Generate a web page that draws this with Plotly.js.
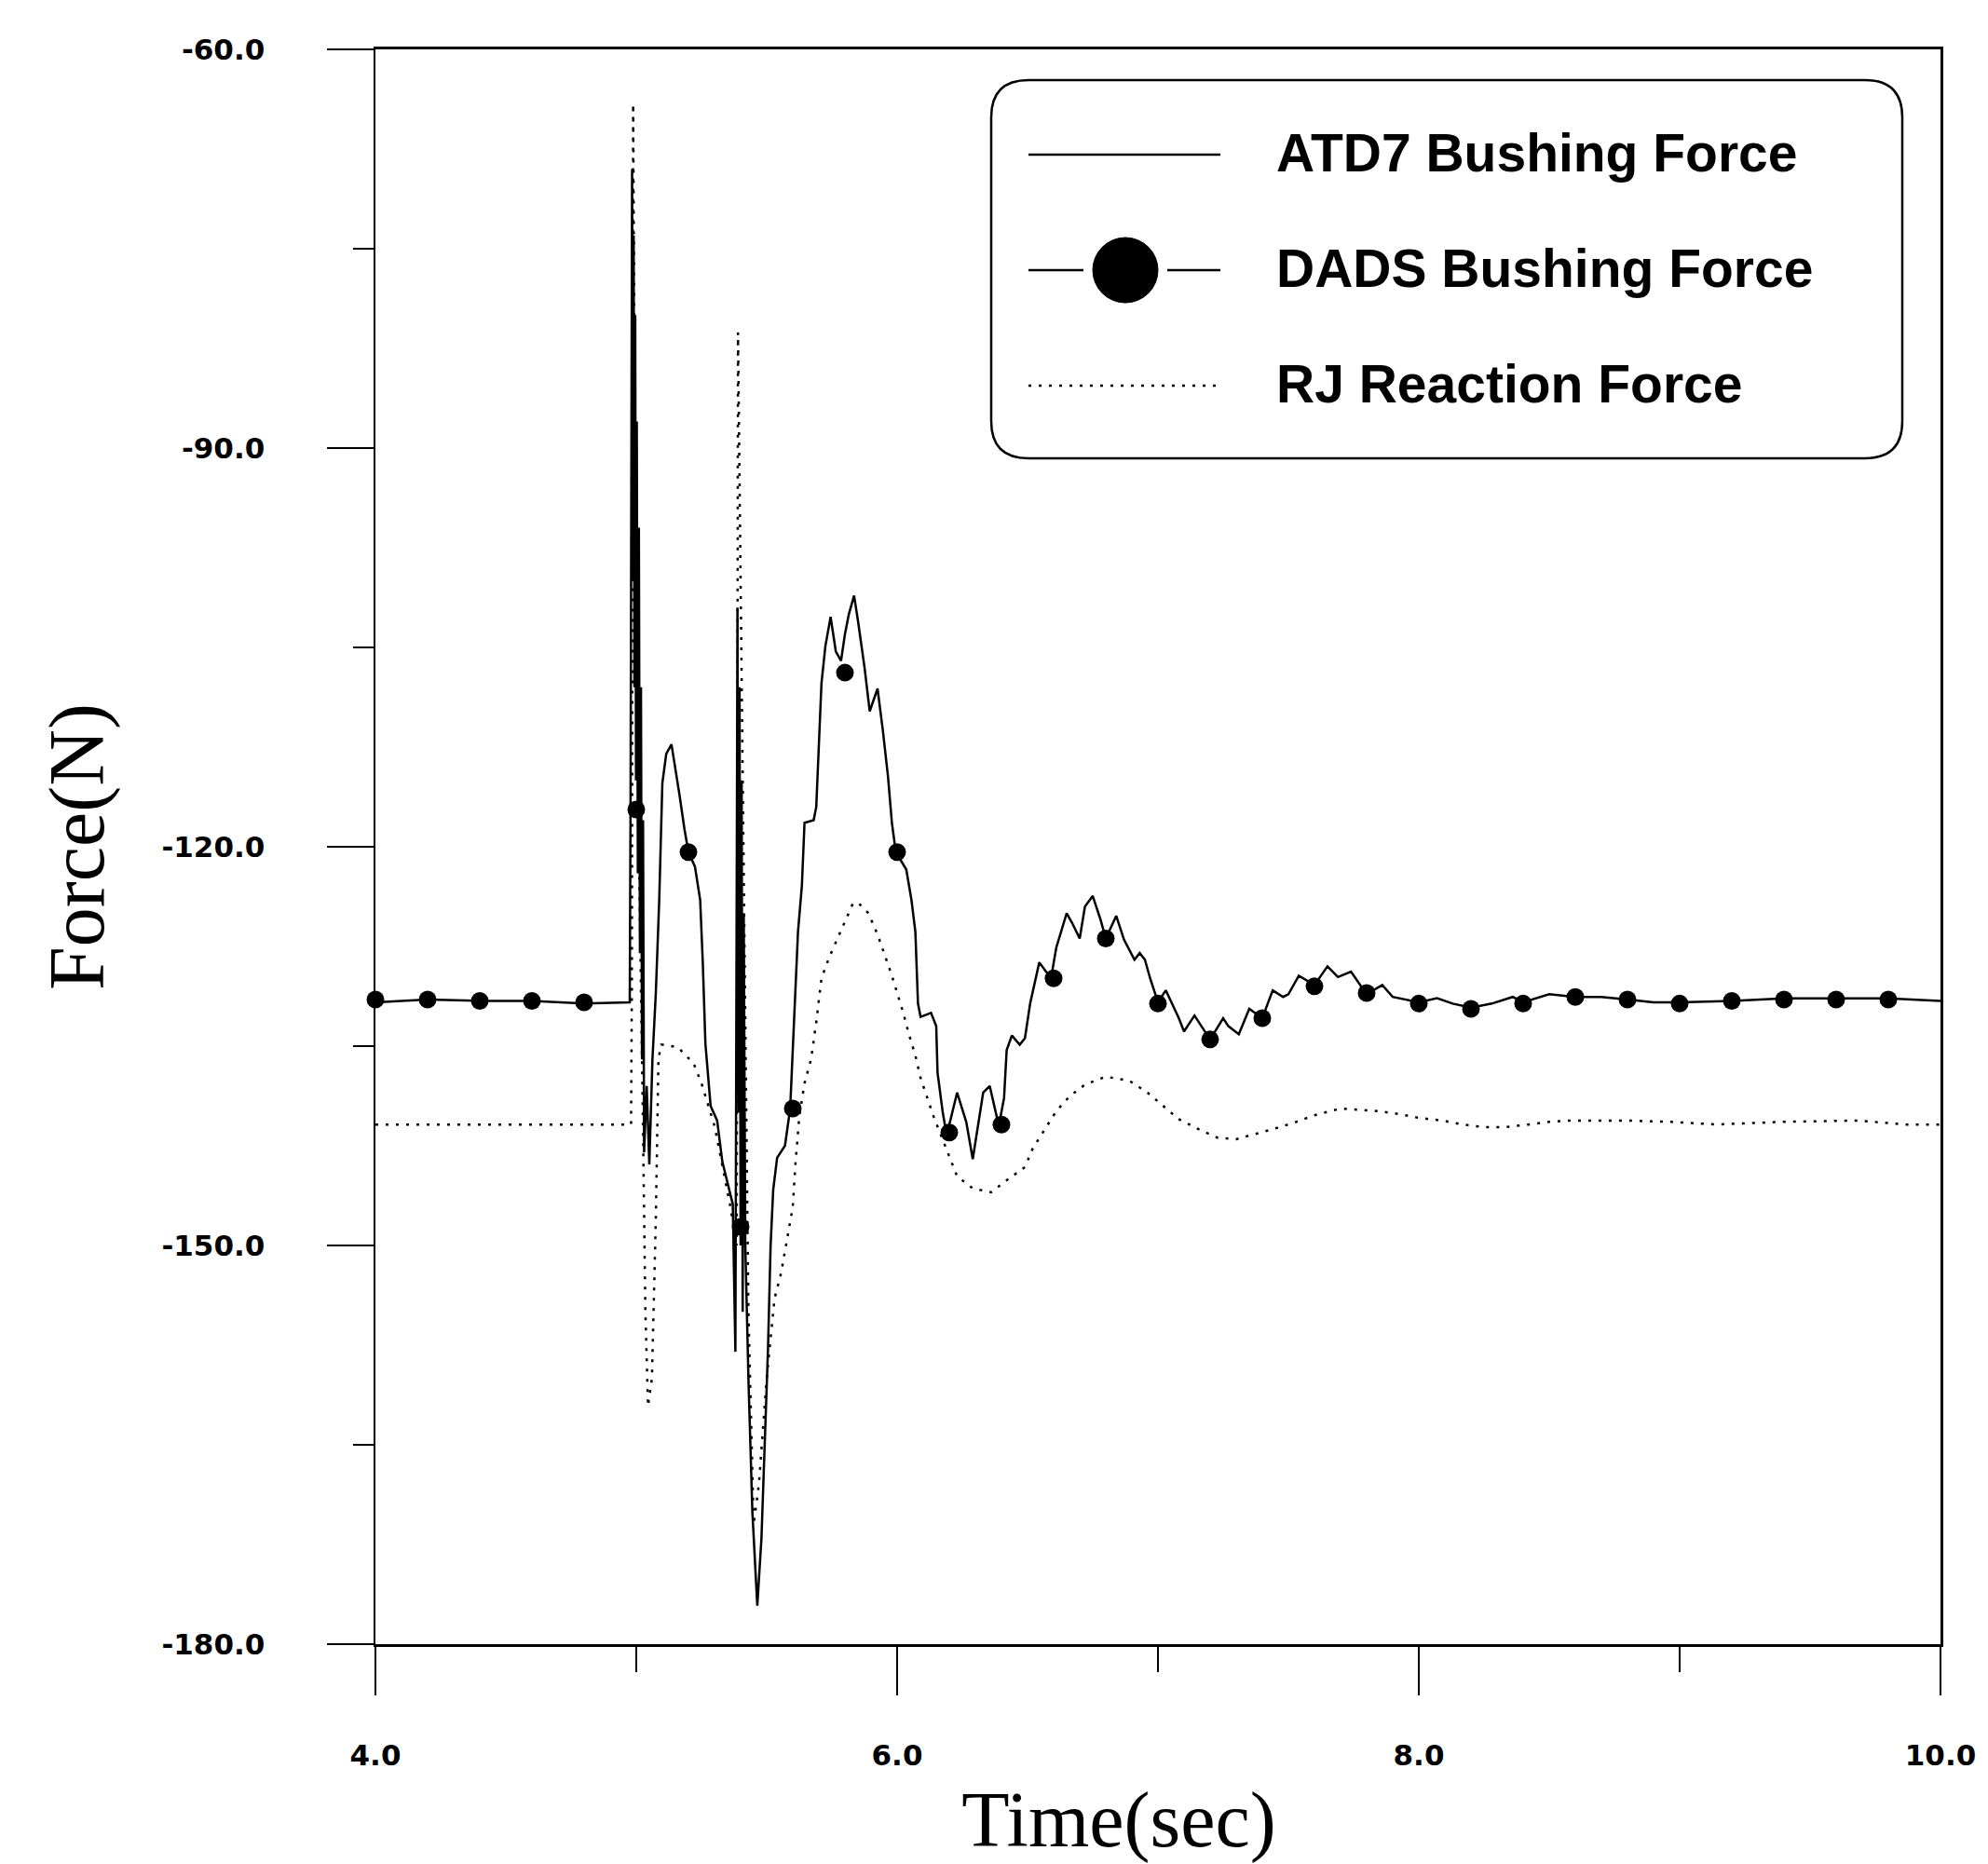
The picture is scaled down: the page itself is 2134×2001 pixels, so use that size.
<!DOCTYPE html>
<html>
<head>
<meta charset="utf-8">
<script src="https://cdn.plot.ly/plotly-3.0.1.min.js"></script>
<style>
  html, body { margin: 0; padding: 0; background: #ffffff; }
  #chart { width: 2134px; height: 2001px; }
</style>
</head>
<body>
<div id="chart"></div>
<script>
// ---------------- DATA ----------------
const seriesNames = ["ATD7 Bushing Force", "DADS Bushing Force", "RJ Reaction Force"];

const timeATD7 = [4.00, 4.20, 4.40, 4.60, 4.80, 4.975, 4.978, 4.981, 4.984, 4.987, 4.990, 4.993, 4.996, 4.999, 5.002, 5.006, 5.010, 5.014, 5.018, 5.022,
  5.026, 5.030, 5.040, 5.050, 5.062, 5.075, 5.088,
  5.100, 5.115, 5.135, 5.150, 5.165, 5.185, 5.200, 5.225, 5.245, 5.255, 5.265, 5.285, 5.310, 5.330, 5.350, 5.370, 5.380, 5.384, 5.388, 5.392,
  5.396, 5.400, 5.404, 5.408, 5.412, 5.418, 5.430, 5.445, 5.464, 5.480, 5.495, 5.505, 5.515, 5.525, 5.540, 5.570, 5.590, 5.605, 5.620, 5.635, 5.645, 5.680,
  5.690, 5.710, 5.725, 5.745, 5.765, 5.785, 5.800, 5.815, 5.835, 5.850, 5.875, 5.895, 5.925, 5.945, 5.965, 5.980, 5.995, 6.035, 6.055, 6.070,
  6.080, 6.090, 6.130, 6.150, 6.155, 6.175, 6.190, 6.230, 6.265, 6.290, 6.330, 6.355, 6.390, 6.410, 6.420, 6.440, 6.470, 6.490, 6.510, 6.545,
  6.590, 6.610, 6.650, 6.670, 6.700, 6.720, 6.750, 6.780, 6.800, 6.840, 6.870, 6.910, 6.930, 6.950, 6.970, 7.000, 7.030, 7.080, 7.100, 7.140,
  7.200, 7.250, 7.270, 7.310, 7.350, 7.400, 7.440, 7.480, 7.500, 7.540, 7.600, 7.650, 7.690, 7.740, 7.800, 7.860, 7.900, 8.000, 8.070, 8.130,
  8.200, 8.280, 8.360, 8.400, 8.500, 8.600, 8.700, 8.800, 8.900, 9.000, 9.200, 9.400, 9.600, 9.800, 10.00];
const forceATD7 = [-131.7, -131.5, -131.6, -131.6, -131.8, -131.7, -117.2, -80.0, -69.0, -100.0, -74.0, -108.0, -80.0, -115.0, -88.0, -122.0, -96.0, -128.0, -108.0, -136.0,
  -118.0, -143.0, -138.0, -143.9, -136.0, -131.0, -124.0,
  -115.2, -113.0, -112.3, -114.0, -116.0, -118.7, -120.4, -121.5, -124.0, -128.7, -134.8, -139.5, -140.6, -143.7, -145.3, -146.9, -158.0, -130.0, -102.0, -140.0,
  -108.0, -150.0, -115.0, -155.0, -125.0, -150.0, -160.0, -170.0, -177.1, -172.0, -163.0, -157.8, -150.0, -145.8, -143.4, -142.5, -139.7, -133.0, -126.4, -122.9, -118.2, -118.0,
  -117.0, -107.7, -104.9, -102.7, -105.3, -106.0, -104.0, -102.5, -101.1, -103.0, -106.5, -109.8, -108.1, -111.2, -114.7, -118.2, -120.4, -121.7, -124.0, -126.4,
  -131.8, -132.8, -132.5, -133.5, -137.0, -140.0, -141.7, -138.5, -140.7, -143.5, -138.5, -138.0, -141.0, -138.9, -135.3, -134.2, -134.9, -134.4, -131.8, -128.7,
  -129.9, -127.6, -125.0, -125.7, -126.9, -124.5, -123.7, -125.5, -126.9, -125.2, -127.0, -128.5, -128.0, -128.5, -129.9, -131.7, -130.8, -132.9, -133.9, -132.7,
  -134.5, -132.9, -133.5, -134.1, -132.2, -132.9, -130.8, -131.3, -131.1, -129.7, -130.4, -129.0, -129.8, -129.4, -131.1, -130.4, -131.3, -131.7, -131.4, -131.8,
  -132.1, -131.8, -131.3, -131.7, -131.1, -131.3, -131.3, -131.5, -131.7, -131.7, -131.6, -131.4, -131.4, -131.4, -131.6];

const timeDADS = [4.0, 4.2, 4.4, 4.6, 4.8, 5.0, 5.2, 5.4, 5.6, 5.8, 6.0, 6.2, 6.4, 6.6, 6.8,
  7.0, 7.2, 7.4, 7.6, 7.8, 8.0, 8.2, 8.4, 8.6, 8.8, 9.0, 9.2, 9.4, 9.6, 9.8];
const forceDADS = [-131.5, -131.5, -131.6, -131.6, -131.7, -117.2, -120.4, -148.6, -139.7, -106.9, -120.4, -141.5, -140.9, -129.9, -126.9,
  -131.8, -134.5, -132.9, -130.5, -131.0, -131.8, -132.2, -131.8, -131.3, -131.5, -131.8, -131.6, -131.5, -131.5, -131.5];

const timeRJ = [4.00, 4.98, 4.983, 4.988, 4.995, 5.010, 5.025, 5.035, 5.045, 5.060, 5.075, 5.085, 5.095, 5.110, 5.160, 5.220, 5.250, 5.275, 5.300, 5.330,
  5.360, 5.385, 5.390, 5.400, 5.415, 5.430, 5.450, 5.470, 5.500, 5.530, 5.555, 5.570, 5.585, 5.600, 5.610, 5.625, 5.645, 5.670, 5.690, 5.710,
  5.740, 5.775, 5.830, 5.850, 5.890, 5.925, 5.950, 5.980, 6.025, 6.045, 6.070, 6.090, 6.140, 6.200, 6.230, 6.290, 6.360, 6.420, 6.490, 6.520,
  6.570, 6.610, 6.660, 6.720, 6.800, 6.890, 6.960, 7.020, 7.080, 7.150, 7.230, 7.300, 7.380, 7.450, 7.530, 7.600, 7.700, 7.780, 7.850, 7.920,
  8.000, 8.090, 8.170, 8.250, 8.330, 8.420, 8.500, 8.570, 8.790, 8.970, 9.140, 9.390, 9.690, 9.860, 10.00];
const forceRJ = [-140.9, -140.9, -131.0, -64.1, -90.0, -120.0, -140.0, -155.0, -162.1, -160.0, -148.0, -136.0, -134.9, -134.9, -135.1, -136.3, -137.8, -139.4, -141.0, -144.0,
  -147.0, -150.0, -81.3, -100.0, -130.0, -155.0, -171.0, -168.0, -160.0, -154.0, -152.1, -150.4, -148.8, -147.1, -143.9, -140.3, -137.8, -136.0, -133.2, -129.9,
  -128.3, -126.7, -124.3, -124.2, -125.0, -126.6, -128.0, -129.7, -132.6, -134.1, -135.7, -137.4, -140.3, -143.3, -144.8, -145.7, -146.0, -145.1, -144.1, -142.7,
  -141.1, -139.9, -138.8, -137.9, -137.3, -137.6, -138.5, -139.5, -140.5, -141.2, -141.9, -142.0, -141.6, -141.2, -140.7, -140.2, -139.7, -139.8, -139.9, -140.1,
  -140.4, -140.6, -140.9, -141.1, -141.1, -140.9, -140.7, -140.6, -140.6, -140.7, -140.9, -140.7, -140.6, -140.9, -140.9];

const xTickVals = [4, 6, 8, 10];
const xTickText = ["4.0", "6.0", "8.0", "10.0"];
const yTickVals = [-60, -90, -120, -150, -180];
const yTickText = ["-60.0", "-90.0", "-120.0", "-150.0", "-180.0"];
const xTitleText = "Time(sec)";
const yTitleText = "Force(N)";

// ---------------- LAYOUT HELPERS ----------------
const W = 2134, H = 2001;
const M = { l: 403, r: 51, t: 53, b: 236 };
const PW = W - M.l - M.r, PH = H - M.t - M.b;
const px = (x) => (x - M.l) / PW;          // page px -> paper x
const py = (y) => (H - M.b - y) / PH;      // page px -> paper y

const INK = "#000000";
const tickFont = { family: "DejaVu Sans", size: 31, color: INK, weight: "bold" };
const titleFont = { family: "Liberation Serif, Times New Roman, serif", size: 84, color: INK };
const legendFont = { family: "Liberation Sans, Arial, sans-serif", size: 57, color: INK, weight: "bold" };

// ---------------- TRACES ----------------
const traces = [
  {
    x: timeATD7, y: forceATD7, name: seriesNames[0], type: "scatter", mode: "lines",
    line: { color: INK, width: 2.5 }, showlegend: false, hoverinfo: "skip"
  },
  {
    x: timeRJ, y: forceRJ, name: seriesNames[2], type: "scatter", mode: "lines",
    line: { color: INK, width: 2.5, dash: "3px,8px" }, showlegend: false, hoverinfo: "skip"
  },
  {
    x: timeDADS, y: forceDADS, name: seriesNames[1], type: "scatter", mode: "markers",
    marker: { color: INK, size: 19, symbol: "circle" }, cliponaxis: false,
    showlegend: false, hoverinfo: "skip"
  }
];

// ---------------- CUSTOM LEGEND (rounded box) ----------------
const box = { x0: 1064, y0: 86, x1: 2042, y1: 492, r: 40 };
const boxPath =
  `M ${px(box.x0 + box.r)},${py(box.y0)} L ${px(box.x1 - box.r)},${py(box.y0)} ` +
  `Q ${px(box.x1)},${py(box.y0)} ${px(box.x1)},${py(box.y0 + box.r)} ` +
  `L ${px(box.x1)},${py(box.y1 - box.r)} ` +
  `Q ${px(box.x1)},${py(box.y1)} ${px(box.x1 - box.r)},${py(box.y1)} ` +
  `L ${px(box.x0 + box.r)},${py(box.y1)} ` +
  `Q ${px(box.x0)},${py(box.y1)} ${px(box.x0)},${py(box.y1 - box.r)} ` +
  `L ${px(box.x0)},${py(box.y0 + box.r)} ` +
  `Q ${px(box.x0)},${py(box.y0)} ${px(box.x0 + box.r)},${py(box.y0)} Z`;

const rowsY = [166, 290, 414];
const sampleX0 = 1104, sampleX1 = 1310, markerCX = 1208, markerR = 35;
const textX = 1368;

const shapes = [
  { type: "path", xref: "paper", yref: "paper", path: boxPath, line: { color: INK, width: 2.5 }, fillcolor: "rgba(0,0,0,0)" },
  { type: "line", xref: "paper", yref: "paper", x0: px(sampleX0), x1: px(sampleX1), y0: py(rowsY[0]), y1: py(rowsY[0]), line: { color: INK, width: 2.5 } },
  { type: "line", xref: "paper", yref: "paper", x0: px(sampleX0), x1: px(markerCX - markerR - 10), y0: py(rowsY[1]), y1: py(rowsY[1]), line: { color: INK, width: 2.5 } },
  { type: "line", xref: "paper", yref: "paper", x0: px(markerCX + markerR + 10), x1: px(sampleX1), y0: py(rowsY[1]), y1: py(rowsY[1]), line: { color: INK, width: 2.5 } },
  { type: "circle", xref: "paper", yref: "paper", x0: px(markerCX - markerR), x1: px(markerCX + markerR), y0: py(rowsY[1] + markerR), y1: py(rowsY[1] - markerR), fillcolor: INK, line: { color: INK, width: 1 } },
  { type: "line", xref: "paper", yref: "paper", x0: px(sampleX0), x1: px(sampleX1), y0: py(rowsY[2]), y1: py(rowsY[2]), line: { color: INK, width: 2.5, dash: "3px,8px" } }
];

const annotations = seriesNames.map((name, i) => ({
  xref: "paper", yref: "paper", x: px(textX), y: py(rowsY[i] - 2),
  xanchor: "left", yanchor: "middle", showarrow: false,
  text: name, font: legendFont
}));

// ---------------- LAYOUT ----------------
const layout = {
  width: W, height: H,
  margin: M,
  paper_bgcolor: "#ffffff", plot_bgcolor: "#ffffff",
  showlegend: false,
  xaxis: {
    range: [4, 10], autorange: false,
    tickmode: "array", tickvals: xTickVals, ticktext: xTickText,
    ticks: "outside", ticklen: 52, tickwidth: 2.5, tickcolor: INK,
    ticklabelstandoff: 38,
    minor: { tickmode: "linear", tick0: 4, dtick: 1, ticks: "outside", ticklen: 27, tickwidth: 2, tickcolor: INK, showgrid: false },
    showgrid: false, zeroline: false,
    showline: true, linecolor: INK, linewidth: 3, mirror: true,
    tickfont: tickFont,
    title: { text: xTitleText + "&nbsp;&nbsp;&nbsp;&nbsp;", font: titleFont, standoff: 44 },
    automargin: false
  },
  yaxis: {
    range: [-180, -60], autorange: false,
    tickmode: "array", tickvals: yTickVals, ticktext: yTickText,
    ticks: "outside", ticklen: 50, tickwidth: 2.5, tickcolor: INK,
    ticklabelstandoff: 60,
    minor: { tickmode: "linear", tick0: -180, dtick: 15, ticks: "outside", ticklen: 22, tickwidth: 2, tickcolor: INK, showgrid: false },
    showgrid: false, zeroline: false,
    showline: true, linecolor: INK, linewidth: 2.5, mirror: true,
    tickfont: tickFont,
    title: { text: yTitleText, font: titleFont, standoff: 34 },
    automargin: false
  },
  shapes: shapes,
  annotations: annotations
};

Plotly.newPlot("chart", traces, layout, { staticPlot: true, displayModeBar: false });
</script>
</body>
</html>
